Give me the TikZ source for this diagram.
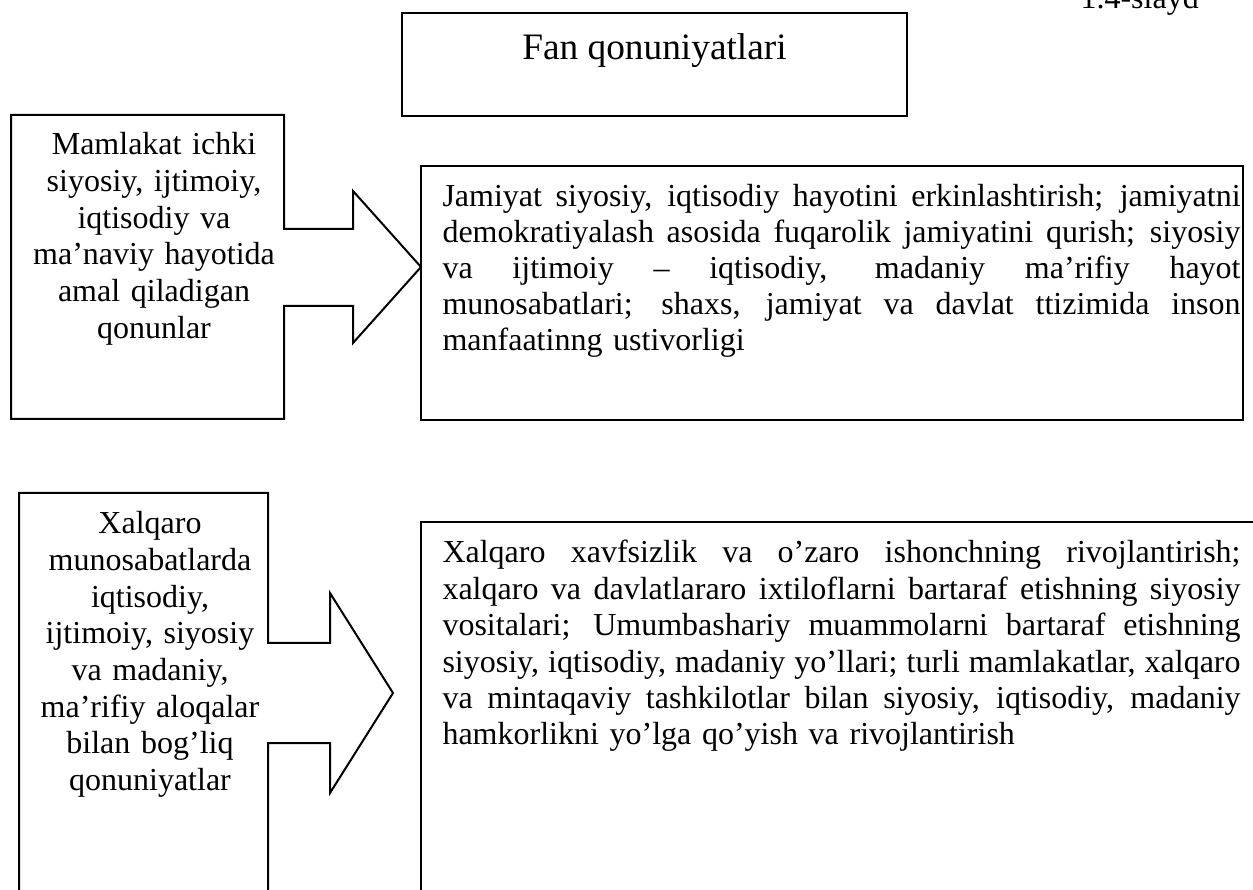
\documentclass[tikz,border=0pt]{standalone}
\usepackage{fontspec}
\setmainfont{Liberation Serif}
\newcommand\jline[1]{\leavevmode\hbox to\linewidth{\spaceskip=0.25em plus 1fil\xspaceskip=0.25em plus 1fil\relax #1}}
\begin{document}
\begin{tikzpicture}[x=0.375pt,y=-0.375pt,
  outline/.style={draw=black,line width=0.75pt,line join=miter},
  lefttext/.style={anchor=base,text width=110pt,align=center,inner sep=0pt,font=\fontsize{12}{13.75}\selectfont},
  righttext/.style={anchor=base west,text width=299.25pt,align=left,inner sep=0pt}]
\clip (0,0) rectangle (1253,890);
\fill[white] (0,0) rectangle (1253,890);

% slide label
\node[anchor=base west,inner sep=0pt,font=\fontsize{12}{14}\selectfont] (S) at (1080,9) {1.4-slayd};

% title box
\draw[outline] (402,13) rectangle (907,116);
\node[anchor=base,inner sep=0pt,font=\fontsize{14}{16}\selectfont] (T) at (654.5,60) {Fan qonuniyatlari};

% first row: left box with block arrow
\draw[outline] (11,115) -- (284,115) -- (284,229) -- (353,229) -- (353,191) -- (421,267)
  -- (353,343) -- (353,306) -- (284,306) -- (284,419) -- (11,419) -- cycle;
\node[lefttext] (L1) at (154,155) {Mamlakat ichki\\ siyosiy, ijtimoiy,\\ iqtisodiy va\\ ma’naviy hayotida\\ amal qiladigan\\ qonunlar};

\draw[outline] (421,166) rectangle (1243,420);
\node[righttext,font=\fontsize{12}{13.45}\selectfont] (R1) at (442,207) {%
\jline{Jamiyat siyosiy, iqtisodiy hayotini erkinlashtirish; jamiyatni}\\
\jline{demokratiyalash asosida fuqarolik jamiyatini qurish; siyosiy}\\
\jline{va ijtimoiy – iqtisodiy, madaniy ma’rifiy hayot}\\
\jline{munosabatlari; shaxs, jamiyat va davlat ttizimida inson}\\
manfaatinng ustivorligi};

% second row
\draw[outline] (19,900) -- (19,493) -- (268,493) -- (268,643) -- (330,643) -- (330,593) -- (393,693)
  -- (330,793) -- (330,743) -- (268,743) -- (268,900);
\node[lefttext] (L2) at (150,534) {Xalqaro\\ munosabatlarda\\ iqtisodiy,\\ ijtimoiy, siyosiy\\ va madaniy,\\ ma’rifiy aloqalar\\ bilan bog’liq\\ qonuniyatlar};

\draw[outline] (1270,522) -- (421,522) -- (421,900);
\node[righttext,font=\fontsize{12}{13.65}\selectfont] (R2) at (442,563) {%
\jline{Xalqaro xavfsizlik va o’zaro ishonchning rivojlantirish;}\\
\jline{xalqaro va davlatlararo ixtiloflarni bartaraf etishning siyosiy}\\
\jline{vositalari; Umumbashariy muammolarni bartaraf etishning}\\
\jline{siyosiy, iqtisodiy, madaniy yo’llari; turli mamlakatlar, xalqaro}\\
\jline{va mintaqaviy tashkilotlar bilan siyosiy, iqtisodiy, madaniy}\\
hamkorlikni yo’lga qo’yish va rivojlantirish};
\end{tikzpicture}
\end{document}
